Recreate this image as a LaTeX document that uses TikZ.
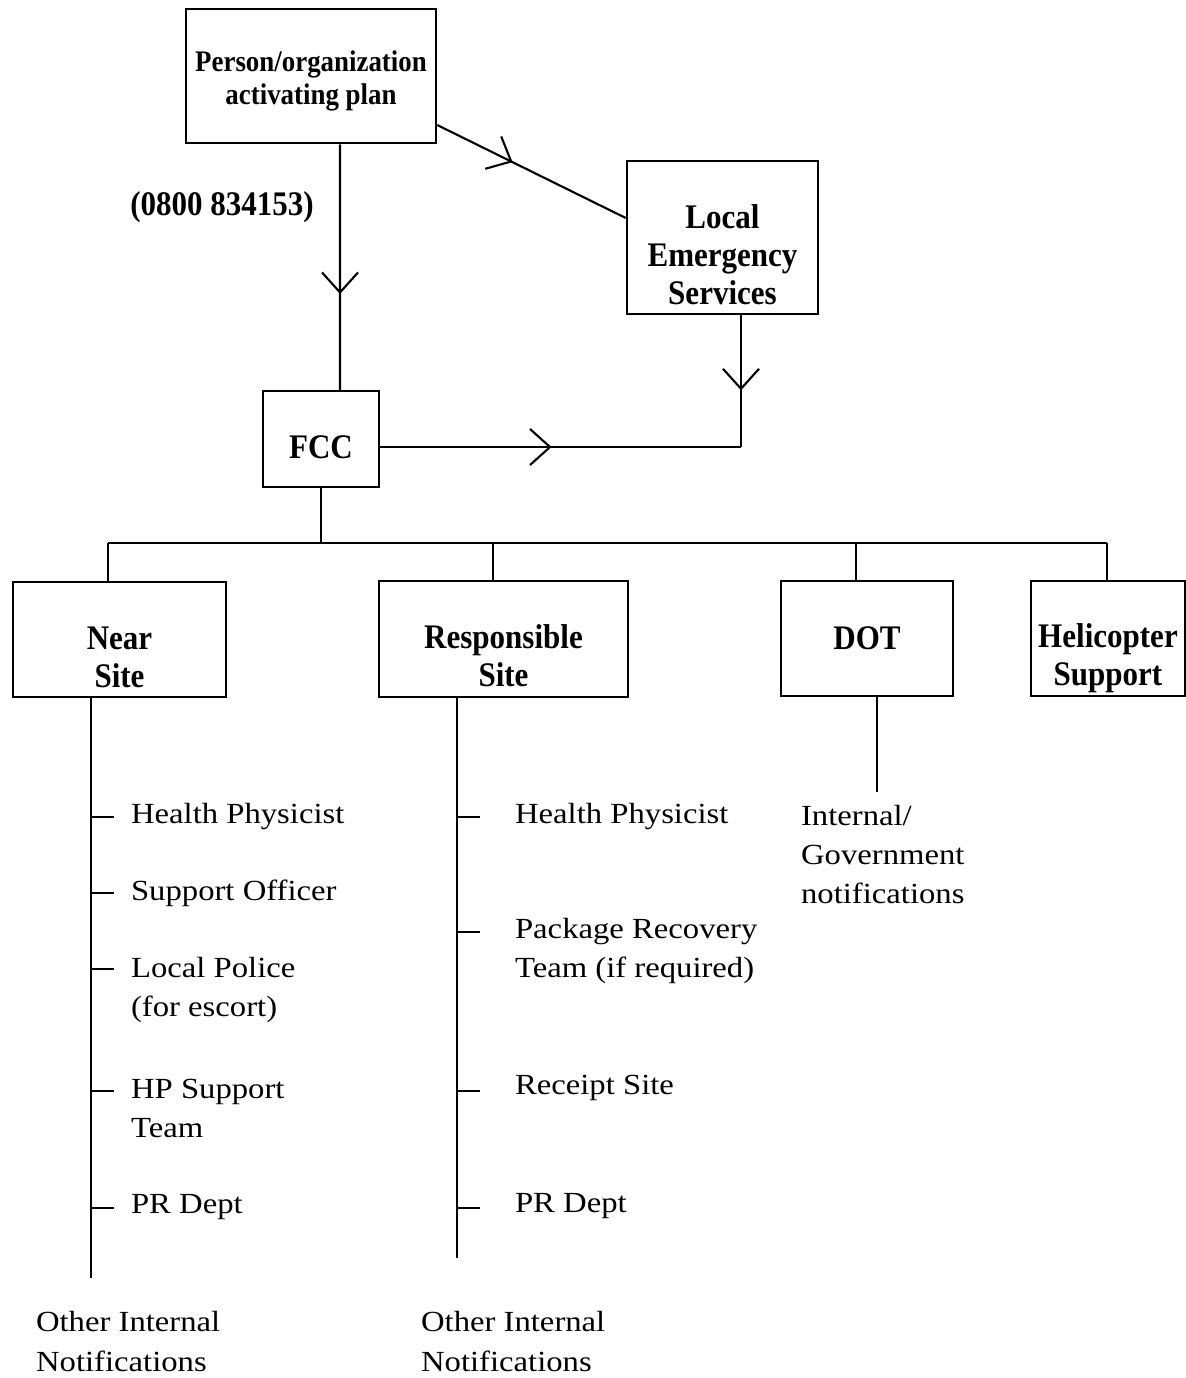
\documentclass[tikz,border=0pt]{standalone}
\usepackage{fontspec}
\setmainfont{Liberation Serif}[FakeStretch=1.12]
\newfontfamily\boxfont{Liberation Serif}[FakeStretch=0.9]
\usetikzlibrary{arrows.meta,decorations.markings}

\tikzset{
  box/.style={draw, line width=0.7pt, inner sep=0pt},
  boxtext/.style={font=\boxfont\bfseries\fontsize{9.8}{10.8}\selectfont, align=center},
  item/.style={anchor=west, align=left, inner sep=0pt, font=\fontsize{8.3}{11.1}\selectfont},
  midtip/.style={postaction={decorate}, decoration={markings,
      mark=at position #1 with {\arrow{Straight Barb[length=0.2cm,width=0.36cm]}}}},
}

\begin{document}
\begin{tikzpicture}[x=0.01cm, y=-0.01cm, line width=0.6pt]
  \useasboundingbox (0,0) rectangle (1186,1378);

  % Ausloeser und Notdienste
  \node[box, minimum width=2.5cm, minimum height=1.34cm,
        label={[boxtext, font=\boxfont\bfseries\fontsize{8.5}{9.2}\selectfont, yshift=-0.05cm]center:Person/organization\\activating plan}] (person) at (311,76) {};
  \node[box, minimum width=1.91cm, minimum height=1.53cm,
        label={[boxtext, yshift=-0.175cm]center:Local\\Emergency\\Services}] (les) at (722.5,237.5) {};
  \node[boxtext] (phone) at (222,207) {(0800 834153)};
  \node[box, minimum width=1.16cm, minimum height=0.96cm,
        label={[boxtext, yshift=-0.08cm]center:FCC}] (fcc) at (321,439) {};

  % Pfeile
  \draw[midtip=0.61] ([xshift=0.29cm]person.south) -- ([xshift=0.19cm]fcc.north);
  \draw[midtip=0.4] ([yshift=-0.49cm]person.east) -- ([yshift=0.195cm]les.west);
  \coordinate (knick) at (741,447);
  \draw[midtip=0.57] (les.south -| knick) -- (knick);
  \draw[midtip=0.475] (fcc.east |- knick) -- (knick);

  % zweite Ebene
  \node[box, minimum width=2.13cm, minimum height=1.15cm,
        label={[boxtext, yshift=-0.175cm]center:Near\\Site}] (near) at (119.5,639.5) {};
  \node[box, minimum width=2.49cm, minimum height=1.16cm,
        label={[boxtext, yshift=-0.17cm]center:Responsible\\Site}] (resp) at (503.5,639) {};
  \node[box, minimum width=1.72cm, minimum height=1.15cm,
        label={[boxtext]center:DOT}] (dot) at (867,638.5) {};
  \node[box, minimum width=1.54cm, minimum height=1.15cm,
        label={[boxtext, yshift=-0.2cm]center:Helicopter\\Support}] (heli) at (1108,638.5) {};

  % Verteiler
  \coordinate (bus) at (321,543);
  \coordinate (bl) at (108,543);
  \coordinate (b2) at (493,543);
  \coordinate (b3) at (856,543);
  \coordinate (br) at (1107,543);
  \draw (fcc.south) -- (bus);
  \draw (bl) -- (br);
  \draw (bl) -- (near.north -| bl);
  \draw (b2) -- (resp.north -| b2);
  \draw (b3) -- (dot.north -| b3);
  \draw (br) -- (heli.north -| br);

  % Near Site
  \coordinate (nearend) at (91,1278);
  \draw (near.south -| nearend) -- (nearend);
  \foreach \y in {817,893,969,1091,1208}
    \draw (91,\y) -- (114,\y);
  \node[item] (hp1)  at (130,817)    {Health Physicist};
  \node[item] (so1)  at (130,893)    {Support Officer};
  \node[item] (lp1)  at (130,989.5)  {Local Police\\(for escort)};
  \node[item] (hpt1) at (130,1108.5) {HP Support\\Team};
  \node[item] (pr1)  at (130,1207)   {PR Dept};
  \node[item] (oin1) at (35,1341.5)  {Other Internal\\Notifications};

  % Responsible Site
  \coordinate (respend) at (457,1258);
  \draw (resp.south -| respend) -- (respend);
  \foreach \y in {817,932,1091,1208}
    \draw (457,\y) -- (480,\y);
  \node[item] (hp2)  at (514,817)    {Health Physicist};
  \node[item] (prt2) at (514,951)    {Package Recovery\\Team (if required)};
  \node[item] (rs2)  at (514,1088)   {Receipt Site};
  \node[item] (pr2)  at (514,1206)   {PR Dept};
  \node[item] (oin2) at (420,1341.5) {Other Internal\\Notifications};

  % DOT
  \coordinate (dotend) at (877,792);
  \draw (dot.south -| dotend) -- (dotend);
  \node[item] (gov) at (800,854.5) {Internal/\\Government\\notifications};
\end{tikzpicture}
\end{document}
